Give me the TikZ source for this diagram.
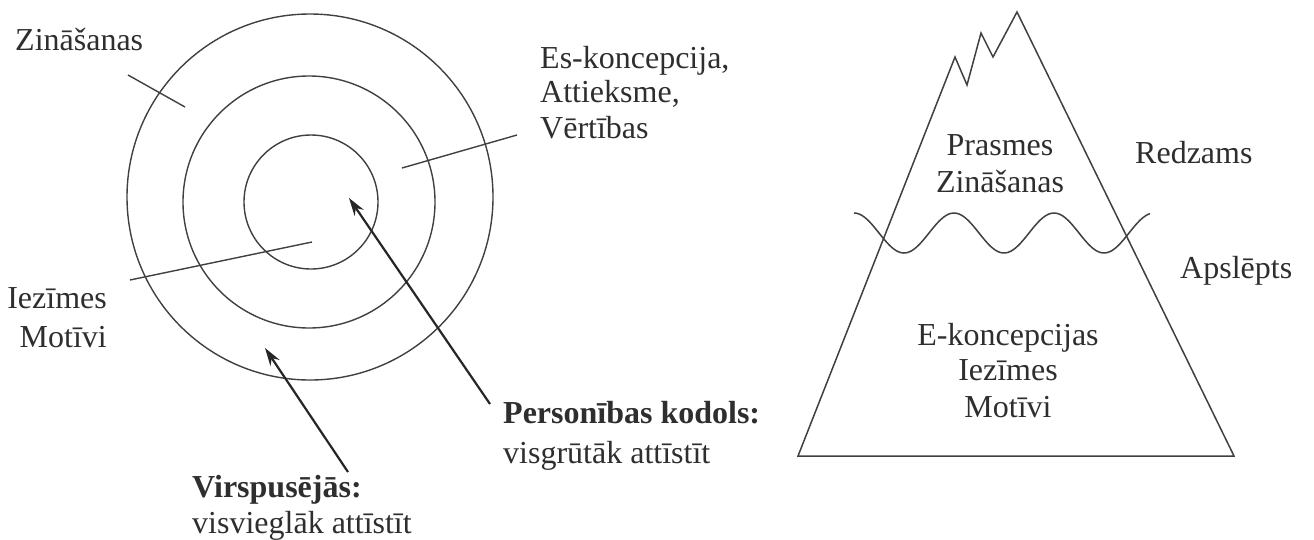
\documentclass[tikz,border=0pt]{standalone}
\usepackage{fontspec}
\setmainfont{Liberation Serif}
\usetikzlibrary{arrows.meta}
\begin{document}
\begin{tikzpicture}[x=1pt,y=-1pt,
  lbl/.style={inner sep=0pt, text=black!82, font=\fontsize{32}{38}\selectfont},
  ring/.style={draw=black!75, line width=1.4pt},
  leader/.style={draw=black!75, line width=1.4pt},
  bigarrow/.style={draw=black!85, line width=2.2pt, -{Stealth[length=18pt,width=11pt]}},
  berg/.style={draw=black!75, line width=1.5pt, line join=miter}]
\useasboundingbox (0,0) rectangle (1314,539);
% rings
\draw[ring] (310,197) circle[radius=183];
\draw[ring] (309,202) circle[radius=126];
\draw[ring] (311,202) circle[radius=67];
% left labels
\node[lbl, anchor=base west] (zin) at (15,50) {Zināšanas};
\node[lbl, anchor=base west] (es1) at (540,68) {Es-koncepcija,};
\node[lbl, anchor=base west] (es2) at (540,102) {Attieksme,};
\node[lbl, anchor=base west] (es3) at (540,138) {Vērtības};
\node[lbl, anchor=base east] (iez) at (107,308) {Iezīmes};
\node[lbl, anchor=base east] (mot) at (107,347) {Motīvi};
\node[lbl, anchor=base west] (vir1) at (192,497) {\textbf{Virspusējās:}};
\node[lbl, anchor=base west] (vir2) at (192,533) {visvieglāk attīstīt};
\node[lbl, anchor=base west] (per1) at (503,423) {\textbf{Personības kodols:}};
\node[lbl, anchor=base west] (per2) at (503,463) {visgrūtāk attīstīt};
% leader lines
\coordinate (zA) at (128,75);  \coordinate (zB) at (185,107);
\coordinate (eA) at (517,135); \coordinate (eB) at (402,168);
\coordinate (iA) at (130,280); \coordinate (iB) at (312,242);
\draw[leader] (zA) -- (zB);
\draw[leader] (eA) -- (eB);
\draw[leader] (iA) -- (iB);
% arrows
\coordinate (vT) at (348,472); \coordinate (vH) at (265,348);
\coordinate (pT) at (490,404); \coordinate (pH) at (349,198);
\draw[bigarrow] (vT) -- (vH);
\draw[bigarrow] (pT) -- (pH);
% iceberg
\draw[berg] (798,456) -- (955,57) -- (967,85) -- (981,33) -- (993,57) -- (1017,12) -- (1234,456) -- cycle;
\draw[berg, domain=854:1150, samples=120, smooth] plot (\x, {233 - 20*cos(3.6*(\x-854))});
\node[lbl, anchor=base] (pr1) at (1000,155) {Prasmes};
\node[lbl, anchor=base] (pr2) at (1000,192) {Zināšanas};
\node[lbl, anchor=base west] (red) at (1135,163) {Redzams};
\node[lbl, anchor=base west] (aps) at (1180,278) {Apslēpts};
\node[lbl, anchor=base] (ek1) at (1008,345) {E-koncepcijas};
\node[lbl, anchor=base] (ek2) at (1008,380) {Iezīmes};
\node[lbl, anchor=base] (ek3) at (1008,417) {Motīvi};
\end{tikzpicture}
\end{document}
